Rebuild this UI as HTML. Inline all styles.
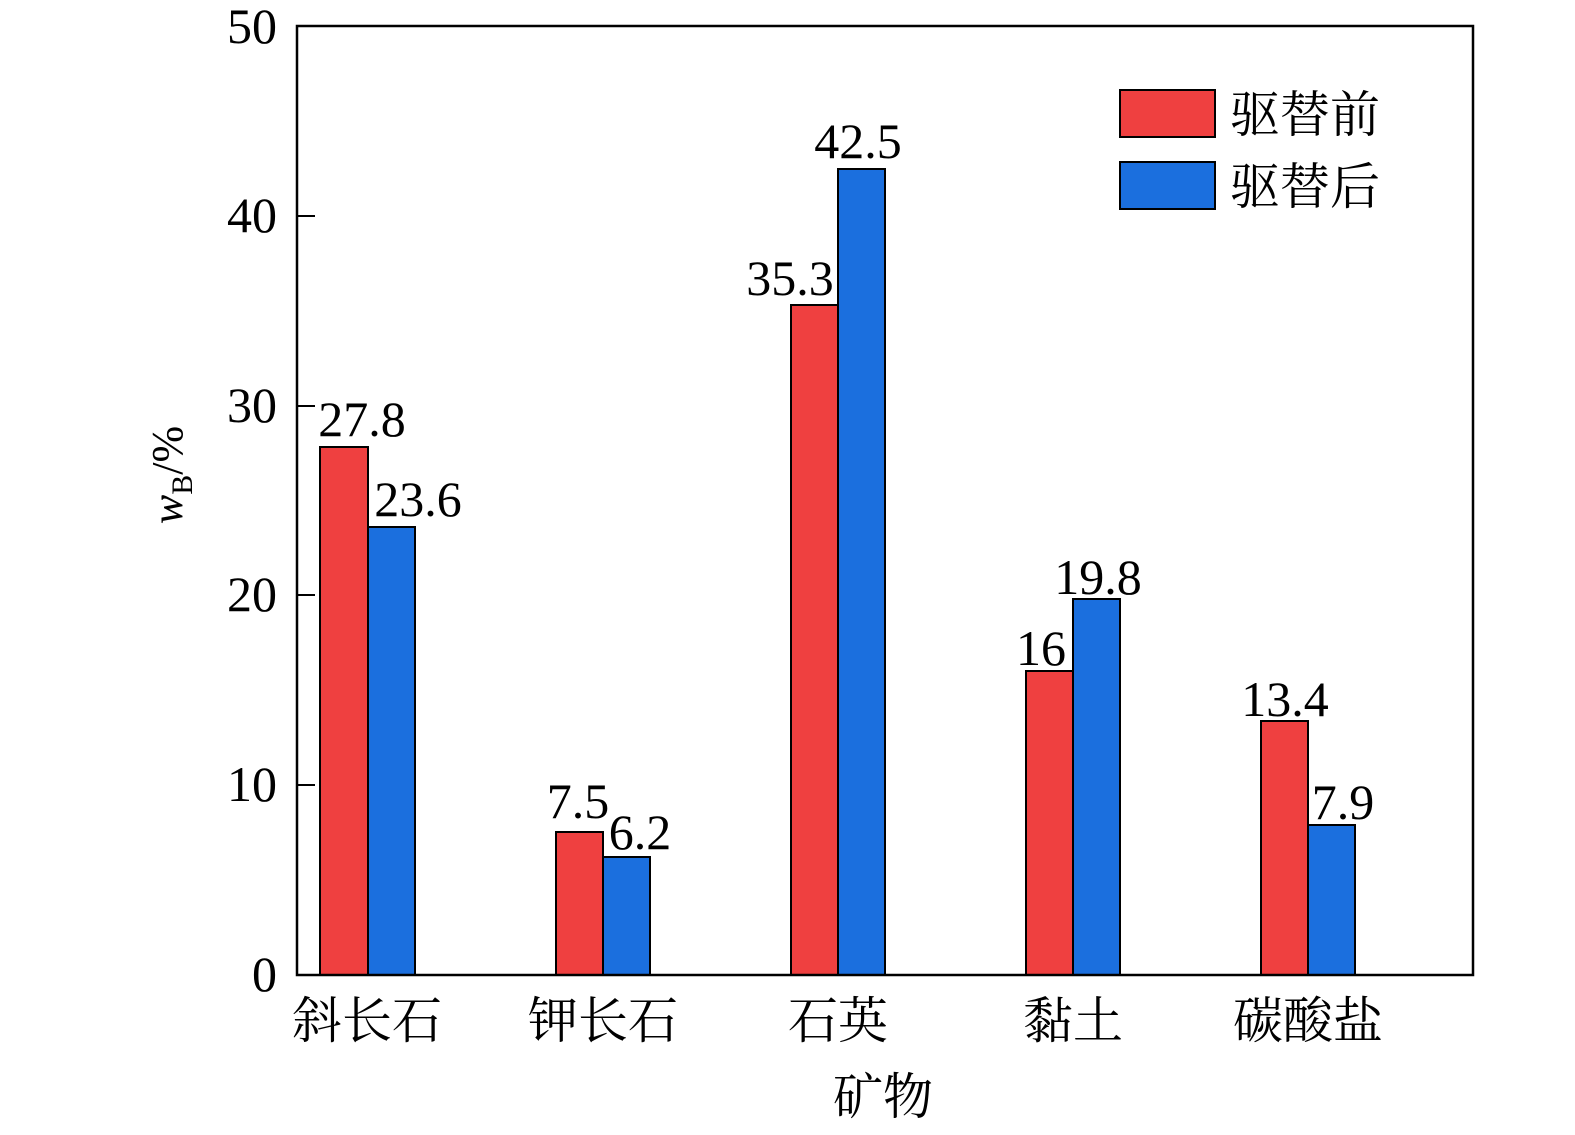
<!DOCTYPE html>
<html><head><meta charset="utf-8"><style>
html,body{margin:0;padding:0;background:#fff;overflow:hidden;}
svg{display:block;}
svg text{font-family:"Liberation Serif","Noto Serif CJK SC",serif;fill:#000;}
</style></head><body>
<svg width="1575" height="1135" viewBox="0 0 1575 1135" xmlns="http://www.w3.org/2000/svg">
<g stroke="#000" stroke-width="2">
<rect x="320" y="447" width="48" height="528" fill="#EF4040"/>
<rect x="368" y="527" width="47" height="448" fill="#1B6FDE"/>
<rect x="556" y="832" width="47" height="143" fill="#EF4040"/>
<rect x="603" y="857" width="47" height="118" fill="#1B6FDE"/>
<rect x="791" y="305" width="47" height="670" fill="#EF4040"/>
<rect x="838" y="169" width="47" height="806" fill="#1B6FDE"/>
<rect x="1026" y="671" width="47" height="304" fill="#EF4040"/>
<rect x="1073" y="599" width="47" height="376" fill="#1B6FDE"/>
<rect x="1261" y="721" width="47" height="254" fill="#EF4040"/>
<rect x="1308" y="825" width="47" height="150" fill="#1B6FDE"/>
<rect x="1120" y="90" width="95" height="47" fill="#EF4040"/>
<rect x="1120" y="162" width="95" height="47" fill="#1B6FDE"/>
</g>
<rect x="297" y="26" width="1176" height="949" fill="none" stroke="#000" stroke-width="2.5"/>
<g stroke="#000" stroke-width="2">
<line x1="297" y1="785" x2="315" y2="785"/>
<line x1="297" y1="595" x2="315" y2="595"/>
<line x1="297" y1="406" x2="315" y2="406"/>
<line x1="297" y1="216" x2="315" y2="216"/>
</g>
<g font-size="50" text-anchor="end">
<text x="277" y="991">0</text>
<text x="277" y="801">10</text>
<text x="277" y="611">20</text>
<text x="277" y="422">30</text>
<text x="277" y="232">40</text>
<text x="277" y="43">50</text>
</g>
<g font-size="50" text-anchor="middle">
<text x="362" y="436">27.8</text>
<text x="418" y="516">23.6</text>
<text x="578" y="818">7.5</text>
<text x="640" y="849">6.2</text>
<text x="790" y="295">35.3</text>
<text x="858" y="158">42.5</text>
<text x="1041" y="665">16</text>
<text x="1098" y="594">19.8</text>
<text x="1285" y="716">13.4</text>
<text x="1343" y="819">7.9</text>
</g>
<g font-size="50" text-anchor="middle">
<text x="367" y="1038">斜长石</text>
<text x="603" y="1038">钾长石</text>
<text x="838" y="1038">石英</text>
<text x="1073" y="1038">黏土</text>
<text x="1308" y="1038">碳酸盐</text>
<text x="883" y="1114">矿物</text>
</g>
<g font-size="50">
<text x="1230" y="132">驱替前</text>
<text x="1230" y="204">驱替后</text>
</g>
<g transform="translate(182,475) rotate(-90)">
<text x="0" y="0" font-size="44" text-anchor="middle"><tspan font-style="italic">w</tspan><tspan font-size="30" dy="10">B</tspan><tspan dy="-10">/%</tspan></text>
</g>
</svg>
</body></html>
